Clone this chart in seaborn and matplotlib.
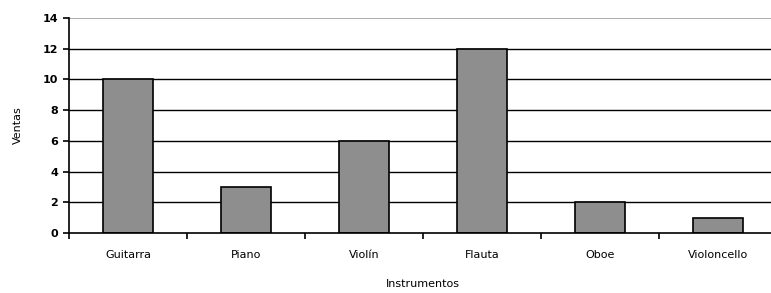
import matplotlib
matplotlib.use("Agg")
import matplotlib.pyplot as plt
import seaborn as sns
import pandas as pd
import numpy as np

instrumentos = ["Guitarra", "Piano", "Violín", "Flauta", "Oboe", "Violoncello"]
ventas = [10, 3, 6, 12, 2, 1]
y_ticks = [0, 2, 4, 6, 8, 10, 12, 14]

df = pd.DataFrame({"Instrumentos": instrumentos, "Ventas": ventas})

sns.set_style("white")
plt.rcParams['font.family'] = ['DejaVu Sans']
plt.rcParams['text.color'] = 'black'
plt.rcParams['axes.labelcolor'] = 'black'
plt.rcParams['xtick.color'] = 'black'
plt.rcParams['ytick.color'] = 'black'

fig = plt.figure(figsize=(7.71, 2.93), dpi=100)
ax = fig.add_axes([69/771, 1-233/293, 708/771, (233-18)/293])

sns.barplot(data=df, x="Instrumentos", y="Ventas", color="#8e8e8e",
            edgecolor="black", linewidth=1.2, width=0.42, saturation=1, ax=ax, zorder=3)

ax.set_ylim(0, 14)
ax.set_xlim(-0.5, len(instrumentos) - 0.5)
ax.set_yticks(y_ticks)
ax.set_yticklabels([str(v) for v in y_ticks], fontsize=8, fontweight='bold')
for v in y_ticks[1:-1]:
    ax.axhline(v, color="black", linewidth=1.0, zorder=1)
ax.axhline(14, color="#a0a0a0", linewidth=1.2, zorder=1)

ax.set_xticks(np.arange(len(instrumentos)))
ax.set_xticklabels(instrumentos, fontsize=8)
ax.set_xticks(np.arange(len(instrumentos) + 1) - 0.5, minor=True)
ax.tick_params(axis='x', which='major', bottom=True, length=0, pad=12, labelcolor='black')
ax.tick_params(axis='x', which='minor', bottom=True, length=4, width=1.2, direction='out', color='black')
ax.tick_params(axis='y', which='major', left=True, length=4, width=1.2, direction='out', color='black', pad=4, labelcolor='black')

for s in ["top", "right"]:
    ax.spines[s].set_visible(False)
for s in ["left", "bottom"]:
    ax.spines[s].set_color("black")
    ax.spines[s].set_linewidth(1.2)
    ax.spines[s].set_zorder(4)

ax.set_xlabel("Instrumentos", fontsize=8, labelpad=14, color='black')
ax.set_ylabel("Ventas", fontsize=8, labelpad=14, color='black')

fig.savefig("out.png", dpi=100)
